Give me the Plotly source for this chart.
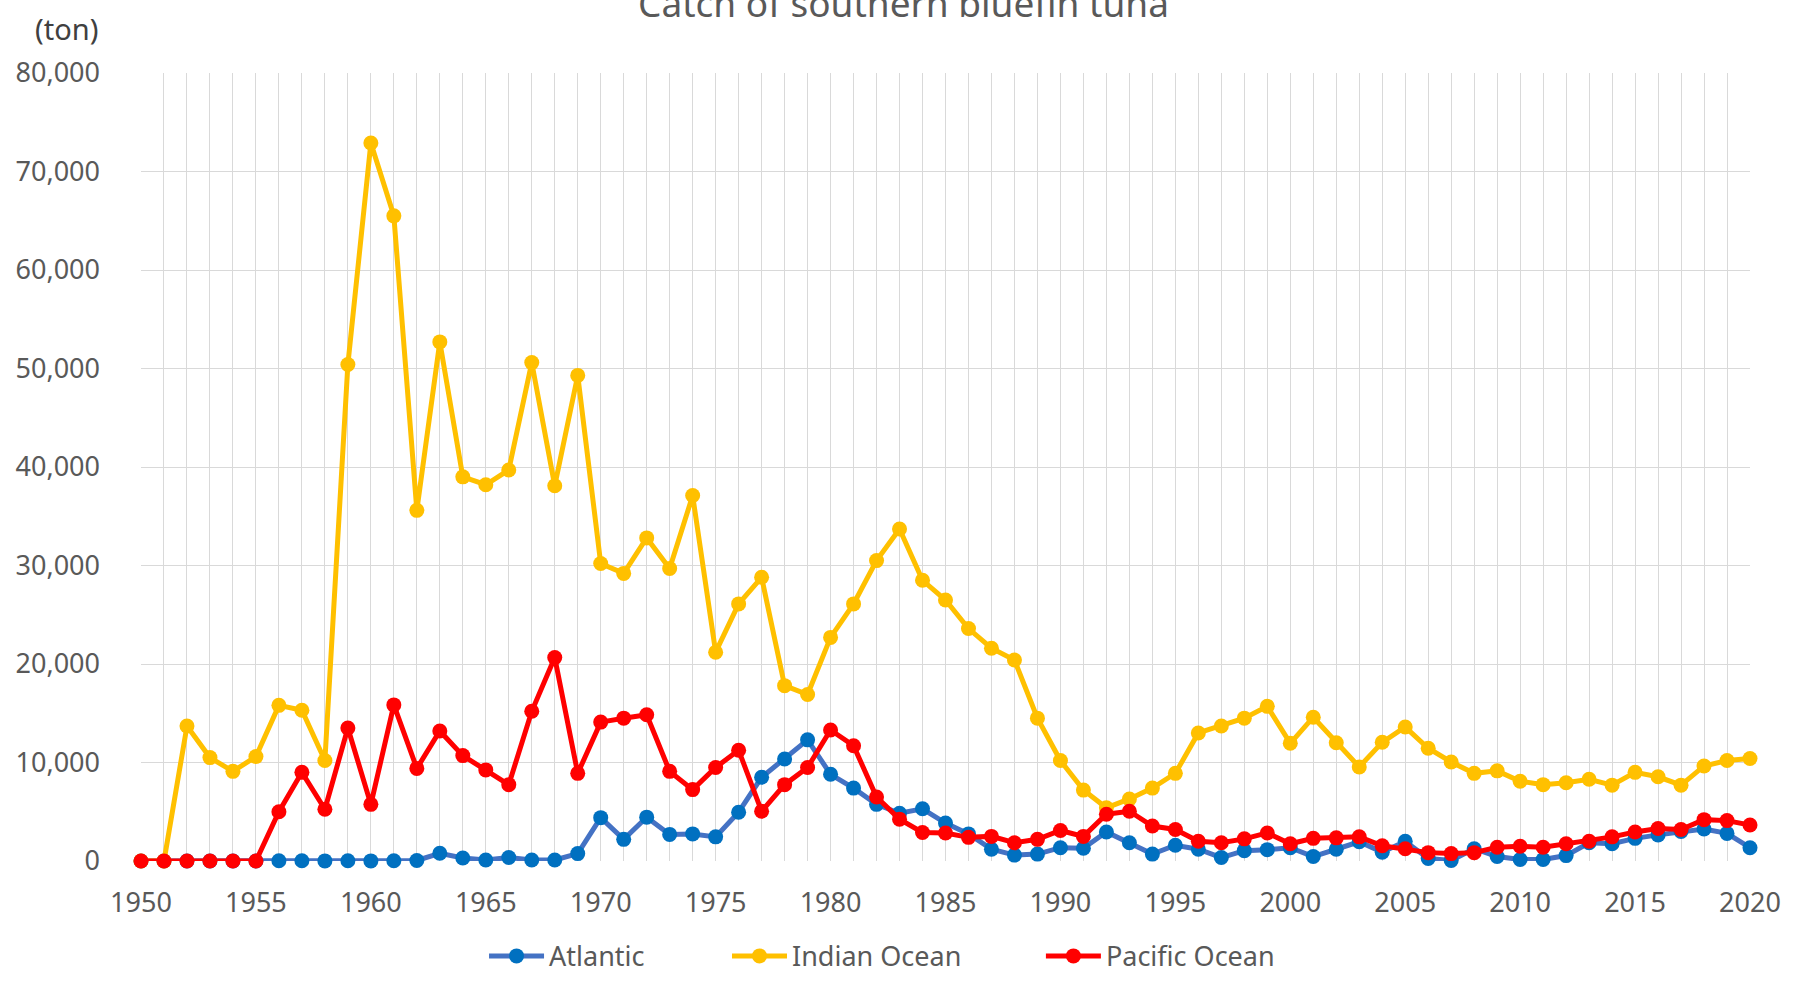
import plotly.graph_objects as go

years = list(range(1950, 2021))

atlantic = [0, 0, 0, 0, 0, 0, 30, 20, 10, 20, 10, 20, 50,
            780, 300, 100, 350, 100, 100, 750,
            4400, 2200, 4450, 2700, 2750, 2450, 4950, 8500, 10350, 12300,
            8800, 7400, 5750, 4850, 5300, 3850, 2750, 1200, 600, 700,
            1350, 1300, 2950, 1850, 700, 1600, 1200, 350, 1050, 1150,
            1350, 450, 1200, 1950, 900, 2000, 250, 50, 1250, 450,
            150, 150, 550, 1850, 1750, 2300, 2650, 3000, 3250, 2800,
            1350]

indian = [0, 0, 13700, 10500, 9100, 10600, 15800, 15300, 10200, 50400,
          72900, 65500, 35600, 52700, 39000, 38200, 39700, 50600, 38100, 49300,
          30200, 29200, 32800, 29700, 37100, 21200, 26100, 28800, 17800, 16900,
          22700, 26100, 30500, 33700, 28500, 26500, 23600, 21600, 20400, 14500,
          10200, 7200, 5400, 6300, 7400, 8900, 13000, 13700, 14500, 15700,
          11950, 14600, 12000, 9550, 12050, 13600, 11450, 10050, 8900, 9150,
          8100, 7750, 7950, 8300, 7700, 9000, 8550, 7700, 9650, 10200,
          10400]

pacific = [0, 0, 0, 0, 0, 0, 5000, 9000, 5250, 13500,
           5750, 15850, 9400, 13200, 10700, 9250, 7750, 15200, 20650, 8900,
           14100, 14500, 14850, 9100, 7250, 9500, 11250, 5050, 7750, 9500,
           13300, 11700, 6500, 4250, 2900, 2850, 2400, 2500, 1850, 2200,
           3100, 2500, 4750, 5050, 3550, 3200, 2000, 1850, 2250, 2850,
           1750, 2300, 2350, 2450, 1550, 1250, 850, 750, 850, 1400,
           1500, 1400, 1750, 2000, 2450, 2950, 3300, 3200, 4200, 4100,
           3650]

series = [
    ("Atlantic", atlantic, "#4472C4", "#0070C0", "legend", 0.2132),
    ("Indian Ocean", indian, "#FFC000", "#FFC000", "legend2", 0.3642),
    ("Pacific Ocean", pacific, "#FF0000", "#FF0000", "legend3", 0.5593),
]

FONT = "Noto Sans, Open Sans, Noto Sans CJK JP, sans-serif"
GREY = "#595959"
GRID = "#D9D9D9"

fig = go.Figure()
legends = {}
for name, vals, lc, mc, lg, lx in series:
    fig.add_trace(go.Scatter(
        x=years, y=vals, name=name, mode="lines+markers",
        line=dict(color=lc, width=5),
        marker=dict(color=mc, size=15, line=dict(width=0)),
        cliponaxis=False, legend=lg,
    ))
    legends[lg] = dict(orientation="h", x=lx, y=-0.121, xanchor="left", yanchor="middle",
                       font=dict(size=27, color=GREY), itemwidth=55,
                       bgcolor="rgba(0,0,0,0)")

fig.update_layout(
    width=1798, height=981,
    margin=dict(l=141, r=48, t=73, b=120, autoexpand=False),
    paper_bgcolor="white", plot_bgcolor="white",
    font=dict(family=FONT, color=GREY, size=27),
    showlegend=True,
    annotations=[
        dict(text="Catch of southern bluefin tuna", xref="paper", yref="paper",
             x=(903 - 141) / 1609, y=1.090, xanchor="center", yanchor="middle", showarrow=False,
             font=dict(size=37, color=GREY)),
        dict(text="(ton)", xref="paper", yref="paper",
             x=-0.0255, y=1.056, xanchor="right", yanchor="middle", showarrow=False,
             font=dict(size=29, color="#404040")),
    ],
    **legends,
)

fig.update_xaxes(
    range=[1950, 2020], dtick=5, tick0=1950, showgrid=True, gridcolor=GRID, gridwidth=1.4,
    minor=dict(dtick=1, showgrid=True, gridcolor=GRID, gridwidth=1.4),
    zeroline=False, showline=False, ticks="", ticklabelstandoff=23, automargin=False,
    tickfont=dict(size=27, color=GREY),
)
fig.update_yaxes(
    range=[0, 80000], dtick=10000, tickformat=",", showgrid=True, gridcolor=GRID, gridwidth=1.4,
    zeroline=False, showline=False, ticks="", ticklabelstandoff=40, automargin=False,
    tickfont=dict(size=27, color=GREY),
)

fig.write_html("out.html", config={"displayModeBar": False},
               post_script="document.body.style.margin='0';")
